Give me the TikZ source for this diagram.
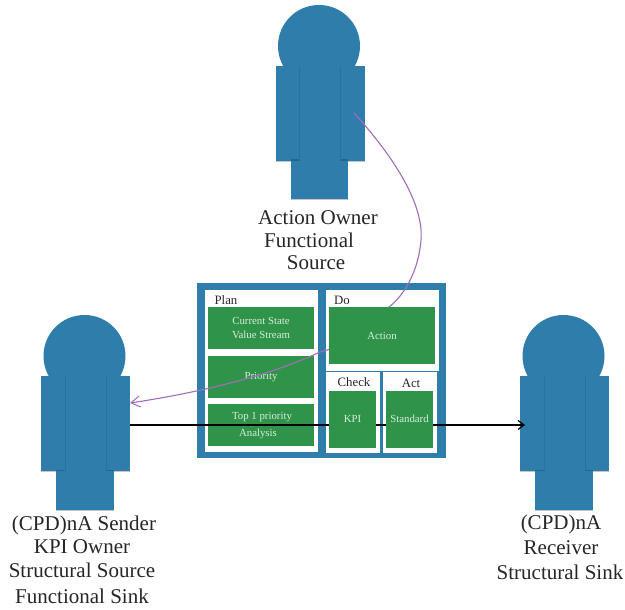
\documentclass[tikz,border=0pt]{standalone}
\usepackage{fontspec}
\setmainfont{Liberation Serif}
\usetikzlibrary{arrows.meta}
\definecolor{pblue}{HTML}{2F7DAB}
\definecolor{pdark}{HTML}{24658C}
\definecolor{pgreen}{HTML}{2F9449}
\definecolor{ptext}{HTML}{D9EBDD}
\definecolor{ppurple}{HTML}{A26DBB}
\definecolor{pshadow}{HTML}{C4C4C4}
\tikzset{
  x=1pt,y=-1pt,
  part/.style={fill=pblue,draw=none,inner sep=0pt,outer sep=0pt},
  whitebox/.style={fill=white,draw=none,inner sep=0pt,outer sep=0pt},
  greenbox/.style={fill=pgreen,draw=none,inner sep=0pt,outer sep=0pt,text=ptext,font=\fontsize{10.8}{14}\selectfont,align=center},
  greentext/.style={inner sep=0pt,text=ptext,font=\fontsize{10.8}{14}\selectfont},
  boxtitle/.style={inner sep=0pt,text=black!85,font=\fontsize{12.8}{14}\selectfont},
  plabel/.style={inner sep=0pt,text=black!85,font=\fontsize{21}{24}\selectfont,anchor=center},
  flow/.style={ppurple,line width=1.1pt,-{Straight Barb[length=9pt,width=11pt,line width=1pt]}},
  kpiline/.style={black,line width=1.5pt,-{Straight Barb[length=6pt,width=9pt,line width=1.2pt]}}
}
\newcommand{\personfig}[3]{%
  \begin{scope}[shift={(#1,#2)}]
    \fill[pshadow] (-28.5,153.5) rectangle (29,154.3);
    \fill[pshadow] (-43.5,115) rectangle (45.5,115.8);
    \node[part,circle,minimum size=82pt] (#3head) at (0,0) {};
    \node[part,minimum width=57.5pt,minimum height=133pt] (#3body) at (0.25,87) {};
    \node[part,minimum width=24pt,minimum height=95pt] (#3armL) at (-31.5,67.5) {};
    \node[part,minimum width=24pt,minimum height=95pt] (#3armR) at (33.5,67.5) {};
    \fill[pdark] (-28.5,113.5) rectangle (-19.5,115);
    \fill[pdark] (21.5,113.5) rectangle (29,115);
    \draw[pdark!45!pblue,line width=0.5pt] (-19.5,20) -- (-19.5,115);
    \draw[pdark!45!pblue,line width=0.5pt] (21.5,20) -- (21.5,115);
  \end{scope}}
\begin{document}
\begin{tikzpicture}
\useasboundingbox (0,0) rectangle (625,610);
\fill[white] (0,0) rectangle (625,610);
\personfig{319}{46}{own}
\personfig{84.5}{356}{snd}
\personfig{563.5}{356}{rcv}
% panel
\node[part,minimum width=249pt,minimum height=175pt] (panel) at (321.5,370.5) {};
\node[whitebox,minimum width=113pt,minimum height=162pt] (planbox) at (261.5,371) {};
\node[whitebox,minimum width=113pt,minimum height=81pt] (dobox) at (382.5,330.5) {};
\node[whitebox,minimum width=54pt,minimum height=81pt] (checkbox) at (353,412.5) {};
\node[whitebox,minimum width=54pt,minimum height=81pt] (actbox) at (410,412.5) {};
\node[greenbox,minimum width=106pt,minimum height=42pt] (cur) at (261,328) {Current State\\Value Stream};
\node[greenbox,minimum width=106pt,minimum height=42pt] (pri) at (261,377) {Priority};
\node[greenbox,minimum width=106pt,minimum height=42pt] (top) at (261,425) {};
% connectors behind the upper boxes
\coordinate (ownArm) at (354,113);
\coordinate (sndIn) at (130,403);
\coordinate (sndOut) at (130,425);
\coordinate (rcvIn) at (525,425);
\draw[flow] (ownArm) .. controls (395,158) and (424,205) .. (421,240)
  .. controls (418,275) and (402,297) .. (389,307)
  .. controls (365,328) and (335,350) .. (320,352)
  .. controls (265,378) and (190,394) .. (sndIn);
\draw[kpiline] (sndOut) -- (rcvIn);
\node[greentext] at (262,417) {Top 1 priority};
\node[greentext] at (258,434) {Analysis};
\node[greenbox,minimum width=106pt,minimum height=57pt] (act) at (382,335.5) {\raisebox{-1pt}{Action}};
\node[greenbox,minimum width=47pt,minimum height=57pt] (kpi) at (352.5,419.5) {\raisebox{2pt}{KPI}};
\node[greenbox,minimum width=47pt,minimum height=57pt] (std) at (409.5,419.5) {\raisebox{2pt}{Standard}};
\node[boxtitle] at (226,300) {Plan};
\node[boxtitle] at (342,300) {Do};
\node[boxtitle] at (354,382) {Check};
\node[boxtitle] at (411,383) {Act};
% labels
\node[plabel] at (318,218) {Action Owner};
\node[plabel] at (309,240) {Functional};
\node[plabel] at (316,263) {Source};
\node[plabel] at (84,525) {(CPD)nA Sender};
\node[plabel] at (82,547) {KPI Owner};
\node[plabel] at (82,570) {Structural Source};
\node[plabel] at (82,596) {Functional Sink};
\node[plabel] at (561,524) {(CPD)nA};
\node[plabel] at (561,548) {Receiver};
\node[plabel] at (560,572) {Structural Sink};
\end{tikzpicture}
\end{document}
